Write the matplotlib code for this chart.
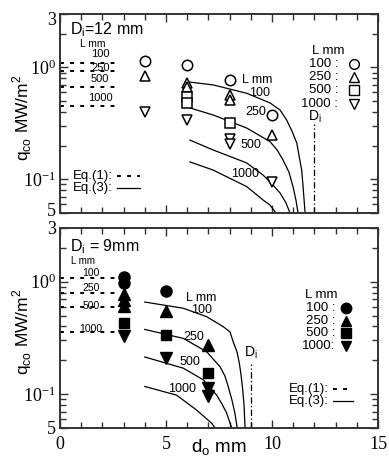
import matplotlib
matplotlib.use("Agg")
import matplotlib.pyplot as plt
from matplotlib.ticker import FixedLocator, FixedFormatter, NullFormatter
from matplotlib.transforms import ScaledTranslation

# ---------------- data ----------------
L_labels = ["100", "250", "500", "1000"]

# Di = 12 mm (top)
eq1_12 = [1.10, 0.92, 0.67, 0.45]
m12_x = {"100": [4, 6, 8, 10],
         "250": [4, 6, 6, 8, 8, 10],
         "500": [6, 6, 8],
         "1000": [4, 6, 8, 8, 10]}
m12_y = {"100": [1.15, 1.05, 0.77, 0.376],
         "250": [0.83, 0.72, 0.67, 0.57, 0.51, 0.25],
         "500": [0.54, 0.48, 0.32],
         "1000": [0.40, 0.34, 0.23, 0.205, 0.095]}
c12_x = {"100": [6.1, 7.23, 8.81, 9.91, 10.38, 10.69, 10.94, 11.17, 11.27, 11.40, 11.46, 11.56],
         "250": [6.13, 7.22, 8.81, 9.91, 10.24, 10.52, 10.8, 10.99, 11.13, 11.23],
         "500": [6.13, 7.22, 8.81, 9.58, 10.0, 10.38, 10.66, 10.85],
         "1000": [6.13, 7.22, 8.81, 9.58, 9.9, 10.19]}
c12_y = {"100": [0.74, 0.697, 0.587, 0.481, 0.416, 0.339, 0.27, 0.211, 0.165, 0.121, 0.089, 0.05],
         "250": [0.434, 0.376, 0.287, 0.217, 0.183, 0.149, 0.116, 0.086, 0.065, 0.05],
         "500": [0.224, 0.183, 0.140, 0.109, 0.091, 0.0755, 0.0615, 0.05],
         "1000": [0.143, 0.121, 0.086, 0.0653, 0.059, 0.05]}

# Di = 9 mm (bottom)
eq1_9 = [1.07, 0.80, 0.59, 0.357]
m9_x = {"100": [3, 3, 5],
        "250": [3, 3, 3, 5, 7],
        "500": [3, 5, 7],
        "1000": [3, 5, 7, 7]}
m9_y = {"100": [1.10, 0.97, 0.83],
        "250": [0.78, 0.69, 0.61, 0.545, 0.274],
        "500": [0.43, 0.333, 0.153],
        "1000": [0.33, 0.211, 0.113, 0.096]}
c9_x = {"100": [4.0, 5.82, 6.92, 7.70, 8.02, 8.17, 8.35, 8.46, 8.54, 8.62, 8.68, 8.73],
        "250": [4.0, 5.82, 6.92, 7.55, 7.78, 7.94, 8.11, 8.25, 8.36],
        "500": [4.0, 5.82, 6.76, 7.39, 7.64, 7.86, 8.10],
        "1000": [4.0, 5.50, 6.45, 7.16, 7.31]}
c9_y = {"100": [0.659, 0.580, 0.488, 0.398, 0.357, 0.292, 0.237, 0.188, 0.148, 0.109, 0.080, 0.05],
        "250": [0.376, 0.313, 0.238, 0.175, 0.145, 0.116, 0.0887, 0.0676, 0.05],
        "500": [0.214, 0.170, 0.134, 0.098, 0.0817, 0.068, 0.05],
        "1000": [0.117, 0.098, 0.072, 0.055, 0.05]}

eq1_xmax = 2.75
Di_top = 12
Di_bot = 9

xticks_major = [0, 5, 10, 15]
xticks_minor = list(range(0, 16))
yticks_lab = [0.05, 0.1, 1.0, 3.0]
ytick_text = ["5", r"$\mathregular{10^{-1}}$", r"$\mathregular{10^{0}}$", "3"]
yminor = [0.06, 0.07, 0.08, 0.09, 0.2, 0.3, 0.4, 0.5, 0.6, 0.7, 0.8, 0.9, 2.0]

markers = {"100": "o", "250": "^", "500": "s", "1000": "v"}

SANS = "Liberation Sans"
SERIF = "Liberation Serif"
plt.rcParams['font.family'] = SANS
plt.rcParams['mathtext.fontset'] = 'custom'
plt.rcParams['mathtext.rm'] = SANS

fig = plt.figure(figsize=(3.89, 4.63), dpi=100)
ax1 = fig.add_axes([60/389, 1-213/463, 318/389, 199/463])
ax2 = fig.add_axes([60/389, 1-428/463, 318/389, 200/463])

FR = "#333333"
DOT = (0, (2, 3.2))
DASHDOT = (0, (5, 2, 1, 2))

def style(ax, bottom_labels, shift_bottom, shift_top):
    ax.set_yscale('log')
    ax.set_xlim(0, 15)
    ax.set_ylim(0.05, 3)
    ax.yaxis.set_major_locator(FixedLocator(yticks_lab))
    ax.yaxis.set_major_formatter(FixedFormatter(ytick_text))
    ax.yaxis.set_minor_locator(FixedLocator(yminor))
    ax.yaxis.set_minor_formatter(NullFormatter())
    ax.xaxis.set_major_locator(FixedLocator(xticks_major))
    ax.xaxis.set_minor_locator(FixedLocator(xticks_minor))
    ax.tick_params(which='both', direction='in', top=True, right=True, color=FR, width=1.0)
    ax.tick_params(which='major', length=6)
    ax.tick_params(which='minor', length=4)
    ax.tick_params(axis='y', which='major', pad=3)
    ax.tick_params(axis='x', which='major', pad=6, labelbottom=bottom_labels)
    for lab in ax.get_yticklabels() + ax.get_xticklabels():
        lab.set_fontfamily(SERIF)
        lab.set_fontsize(13)
    ticks = ax.yaxis.get_major_ticks()
    ticks[0].label1.set_transform(ticks[0].label1.get_transform() +
                                  ScaledTranslation(0, shift_bottom / 72, fig.dpi_scale_trans))
    ticks[-1].label1.set_transform(ticks[-1].label1.get_transform() +
                                   ScaledTranslation(0, shift_top / 72, fig.dpi_scale_trans))
    for s in ax.spines.values():
        s.set_linewidth(1.4)
        s.set_color(FR)
    ax.set_ylabel(r"q$_{\mathregular{co}}$ MW/m$^{\mathregular{2}}$", fontsize=12.5, va='center')
    ax.yaxis.set_label_coords(-0.118, 0.48)

style(ax1, False, 2.5, -3)
style(ax2, True, 0, 0)
ax2.set_xlabel(r"d$_{\mathregular{o}}$ mm", fontsize=13.5, va='center')
ax2.xaxis.set_label_coords(0.5, -0.10)

# ---------- top panel ----------
ax = ax1
for i, L in enumerate(L_labels):
    ax.plot([0, eq1_xmax], [eq1_12[i], eq1_12[i]], color='black', lw=1.4, ls=DOT)
    ax.plot(c12_x[L], c12_y[L], color='black', lw=0.9)
    ax.plot(m12_x[L], m12_y[L], ls='none', marker=markers[L], ms=7.5 if L != "500" else 7,
            mfc='white', mec='black', mew=1.1)
ax.plot([Di_top, Di_top], [0.05, 0.31], color='black', lw=0.9, ls=DASHDOT)
ax.text(Di_top, 0.36, r"D$_{\mathregular{i}}$", fontsize=10, ha='center', va='center')
ax.text(0.03, 0.92, r"D$_{\mathregular{i}}$=12 mm", transform=ax.transAxes, fontsize=11.5, va='center')
ax.text(1.55, 1.62, "L mm", fontsize=7.5, ha='center', va='center')
for lab, yv in zip(L_labels, [1.32, 0.98, 0.79, 0.53]):
    ax.text(1.9, yv, lab, fontsize=8, ha='center', va='center')
# curve labels
ax.text(9.3, 0.77, "L mm", fontsize=9, ha='center', va='center')
ax.text(9.4, 0.585, "100", fontsize=9, ha='center', va='center')
ax.text(9.25, 0.40, "250", fontsize=9, ha='center', va='center')
ax.text(9.0, 0.203, "500", fontsize=9, ha='center', va='center')
ax.text(8.75, 0.112, "1000", fontsize=9, ha='center', va='center')
# marker legend
ax.text(0.845, 0.815, "L mm", transform=ax.transAxes, fontsize=9.5, ha='center', va='center')
for k, L in enumerate(L_labels):
    yy = 0.748 - k * 0.066
    ax.text(0.875, yy, L + " :", transform=ax.transAxes, fontsize=9.5, ha='right', va='center')
    ax.plot([0.923], [yy], transform=ax.transAxes, marker=markers[L], ms=7, mfc='white',
            mec='black', mew=1.0, ls='none')
# eq legend
ax.text(0.04, 0.185, "Eq.(1):", transform=ax.transAxes, fontsize=9.5, va='center')
ax.plot([0.18, 0.25], [0.185, 0.185], transform=ax.transAxes, color='black', lw=1.4, ls=DOT)
ax.text(0.04, 0.125, "Eq.(3):", transform=ax.transAxes, fontsize=9.5, va='center')
ax.plot([0.18, 0.25], [0.125, 0.125], transform=ax.transAxes, color='black', lw=0.9)

# ---------- bottom panel ----------
ax = ax2
for i, L in enumerate(L_labels):
    ax.plot([0, eq1_xmax], [eq1_9[i], eq1_9[i]], color='black', lw=1.4, ls=DOT)
    ax.plot(c9_x[L], c9_y[L], color='black', lw=0.9)
    ax.plot(m9_x[L], m9_y[L], ls='none', marker=markers[L], ms=8 if L != "500" else 7.5,
            mfc='black', mec='black')
ax.plot([Di_bot, Di_bot], [0.05, 0.185], color='black', lw=0.9, ls=DASHDOT)
ax.text(Di_bot, 0.232, r"D$_{\mathregular{i}}$", fontsize=10, ha='center', va='center')
ax.text(0.03, 0.905, r"D$_{\mathregular{i}}$ = 9mm", transform=ax.transAxes, fontsize=11.5, va='center')
ax.text(1.1, 1.53, "L mm", fontsize=7, ha='center', va='center')
for lab, yv in zip(L_labels, [1.20, 0.883, 0.61, 0.38]):
    ax.text(1.45, yv, lab, fontsize=7.5, ha='center', va='center')
ax.text(6.68, 0.71, "L mm", fontsize=9, ha='center', va='center')
ax.text(6.68, 0.555, "100", fontsize=9, ha='center', va='center')
ax.text(6.29, 0.32, "250", fontsize=9, ha='center', va='center')
ax.text(6.13, 0.195, "500", fontsize=9, ha='center', va='center')
ax.text(5.74, 0.11, "1000", fontsize=9, ha='center', va='center')
ax.text(0.82, 0.665, "L mm", transform=ax.transAxes, fontsize=9.5, ha='center', va='center')
for k, L in enumerate(L_labels):
    yy = 0.6 - k * 0.063
    ax.text(0.865, yy, L + " :" if L != "1000" else L + ":", transform=ax.transAxes,
            fontsize=9.5, ha='right', va='center')
    ax.plot([0.898], [yy], transform=ax.transAxes, marker=markers[L], ms=7.5, mfc='black',
            mec='black', ls='none')
ax.text(0.72, 0.195, "Eq.(1):", transform=ax.transAxes, fontsize=9.5, va='center')
ax.plot([0.86, 0.92], [0.195, 0.195], transform=ax.transAxes, color='black', lw=1.4, ls=DOT)
ax.text(0.72, 0.135, "Eq.(3):", transform=ax.transAxes, fontsize=9.5, va='center')
ax.plot([0.86, 0.92], [0.135, 0.135], transform=ax.transAxes, color='black', lw=0.9)

fig.savefig("out.png", dpi=100)
